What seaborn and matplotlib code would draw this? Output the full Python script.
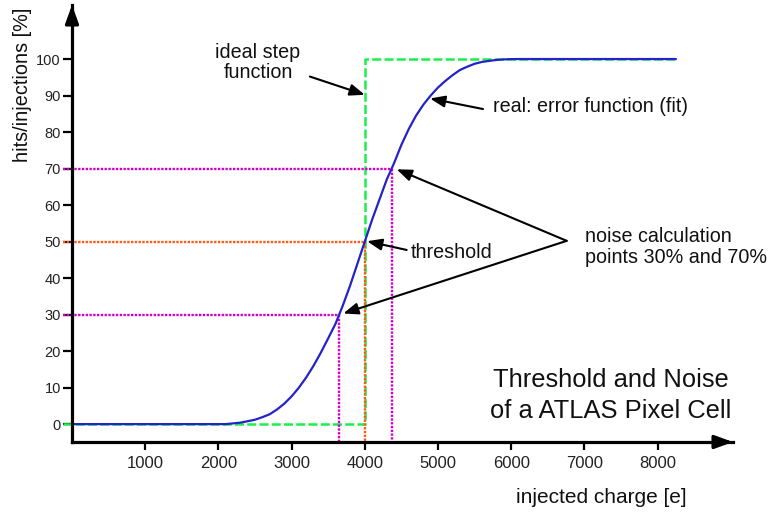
import matplotlib
matplotlib.use("Agg")
import matplotlib.pyplot as plt
import seaborn as sns
import pandas as pd

# ---- data ----
charge = [0, 2100, 2200, 2300, 2400, 2500, 2600, 2700, 2800, 2900, 3000, 3100,
          3200, 3300, 3400, 3500, 3600, 3650, 3700, 3800, 3900, 4000, 4100, 4200,
          4300, 4367, 4400, 4500, 4600, 4700, 4800, 4900, 5000, 5100, 5200, 5300,
          5400, 5500, 5600, 5700, 5800, 5900, 6000, 6100, 8250]
efficiency = [0, 0, 0.2, 0.4, 0.8, 1.2, 1.9, 2.7, 4.0, 5.6, 7.6, 10.0,
              12.8, 16.0, 19.6, 23.5, 27.5, 30, 32.5, 38, 44, 50, 56, 61.5,
              67, 70, 71.5, 76.5, 80.8, 84.5, 87.5, 90, 92.2, 94, 95.6, 97,
              97.9, 98.7, 99.2, 99.5, 99.75, 99.9, 99.97, 100, 100]

step_x = [-123, 4000, 4000, 8250]
step_y = [0, 0, 100, 100]

noise_levels = [30, 70]
noise_charge = [3650, 4367]
threshold_level = 50
threshold_charge = 4000

x_ticks = [1000, 2000, 3000, 4000, 5000, 6000, 7000, 8000]
y_ticks = [0, 10, 20, 30, 40, 50, 60, 70, 80, 90, 100]

# ---- style ----
sns.set_style("white")
plt.rcParams['font.family'] = ['Liberation Sans', 'DejaVu Sans']

BLUE = "#2323c8"
GREEN = "#19f04a"
MAGENTA = "#d800c8"
ORANGE = "#ff5a14"

fig = plt.figure(figsize=(7.7, 5.12), dpi=100)
ax = fig.add_axes([72/770, 1-442/512, 661/770, 437/512])
XMIN, XMAX = 0, 9030
YMIN, YMAX = -4.9, 114.8
ax.set_xlim(XMIN, XMAX)
ax.set_ylim(YMIN, YMAX)

# step function
step_df = pd.DataFrame({"x": step_x, "y": step_y})
sns.lineplot(data=step_df, x="x", y="y", sort=False, estimator=None, ax=ax,
             color=GREEN, lw=1.8, dashes=False, linestyle=(0, (3.6, 1.3)),
             clip_on=False, zorder=2)

# noise points (magenta dotted)
DOT = (0, (1.0, 0.6))
for lvl, q in zip(noise_levels, noise_charge):
    ax.plot([-123, q], [lvl, lvl], color=MAGENTA, lw=1.7, linestyle=DOT,
            clip_on=False, zorder=3)
    ax.plot([q, q], [lvl, YMIN], color=MAGENTA, lw=1.7, linestyle=DOT,
            clip_on=False, zorder=3)

# threshold (orange dotted)
ax.plot([-123, threshold_charge], [threshold_level, threshold_level], color=ORANGE,
        lw=1.7, linestyle=DOT, clip_on=False, zorder=3)
ax.plot([threshold_charge, threshold_charge], [threshold_level, YMIN], color=ORANGE,
        lw=1.7, linestyle=DOT, clip_on=False, zorder=3)

# error function curve
curve_df = pd.DataFrame({"charge": charge, "eff": efficiency})
sns.lineplot(data=curve_df, x="charge", y="eff", ax=ax, color=BLUE, lw=1.6,
             zorder=4)

# ---- axes ----
for s in ["top", "right"]:
    ax.spines[s].set_visible(False)
for s in ["left", "bottom"]:
    ax.spines[s].set_linewidth(2.3)
    ax.spines[s].set_color("black")
    ax.spines[s].set_zorder(5)

ax.set_xticks(x_ticks)
ax.set_yticks(y_ticks)
ax.set_xticklabels([str(t) for t in x_ticks], fontsize=12)
ax.set_yticklabels([str(t) for t in y_ticks], fontsize=10.5)
ax.tick_params(axis="x", direction="out", length=6, width=1.6, pad=4, color="black",
               bottom=True, labelcolor="#222222")
ax.tick_params(axis="y", direction="out", length=6.5, width=1.6, pad=1.5, color="black",
               left=True, labelcolor="#222222")
ax.set_xlabel("")
ax.set_ylabel("")

# axis arrow heads
arrow_style = "-|>,head_length=1.1,head_width=0.4"
ax.annotate("", xy=(1.0, 0), xytext=(0.97, 0), xycoords="axes fraction",
            arrowprops=dict(arrowstyle=arrow_style, color="black", lw=2.3,
                            mutation_scale=10, shrinkA=0, shrinkB=0))
ax.annotate("", xy=(0, 1.0), xytext=(0, 0.96), xycoords="axes fraction",
            arrowprops=dict(arrowstyle=arrow_style, color="black", lw=2.3,
                            mutation_scale=10, shrinkA=0, shrinkB=0))

# axis labels
ax.text(-676, 92.9, "hits/injections [%]", rotation=90, ha="center", va="center",
        fontsize=14.3, color="#111111", clip_on=False)
ax.text(7236, -20.2, "injected charge [e]", ha="center", va="center",
        fontsize=15, color="#111111", clip_on=False)

# annotations
FS = 14.2
ann_arrow = dict(arrowstyle="-|>,head_length=0.9,head_width=0.35", color="black",
                 lw=1.5, mutation_scale=10, shrinkA=0, shrinkB=0)

ax.text(2541, 99.1, "ideal step\nfunction", ha="center", va="center",
        fontsize=FS, linespacing=1.1, color="#111111")
ax.annotate("", xy=(4000, 90.2), xytext=(3250, 95.2), arrowprops=ann_arrow)

ax.text(5751, 86.9, "real: error function (fit)", ha="left", va="center",
        fontsize=FS, color="#111111")
ax.annotate("", xy=(4891, 89.2), xytext=(5615, 86.3), arrowprops=ann_arrow)

ax.text(4631, 46.9, "threshold", ha="left", va="center", fontsize=FS, color="#111111")
ax.annotate("", xy=(4030, 50.1), xytext=(4572, 47.7), arrowprops=ann_arrow)

ax.text(7008, 48.6, "noise calculation\npoints 30% and 70%", ha="left", va="center",
        fontsize=FS, linespacing=1.12, color="#111111")
ax.annotate("", xy=(4436, 69.8), xytext=(6758, 50.2), arrowprops=ann_arrow)
ax.annotate("", xy=(3706, 30.3), xytext=(6758, 50.2), arrowprops=ann_arrow)

ax.text(7363, 7.9, "Threshold and Noise\nof a ATLAS Pixel Cell", ha="center",
        va="center", fontsize=18.4, linespacing=1.35, color="#111111")

fig.savefig("out.png", dpi=100)
